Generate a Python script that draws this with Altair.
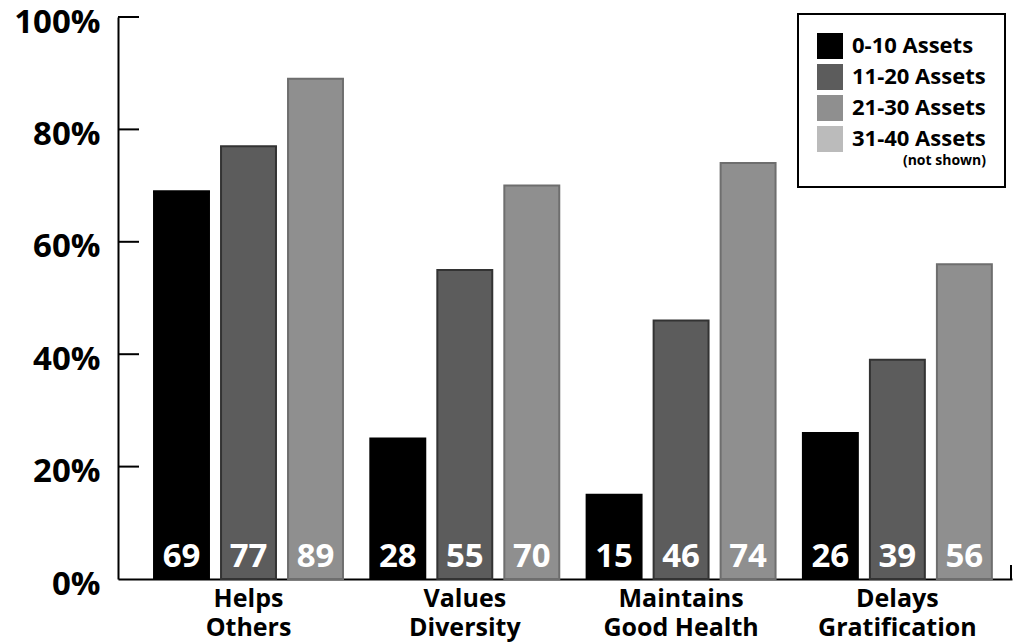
import altair as alt
import pandas as pd

categories = ["Helps|Others", "Values|Diversity", "Maintains|Good Health", "Delays|Gratification"]
groups = ["0-10 Assets", "11-20 Assets", "21-30 Assets", "31-40 Assets"]
shown_groups = groups[:3]

# bar heights as drawn (percent) and the numbers printed on the bars
heights_0_10 = [69, 25, 15, 26]
heights_11_20 = [77, 55, 46, 39]
heights_21_30 = [89, 70, 74, 56]
labels_0_10 = [69, 28, 15, 26]
labels_11_20 = [77, 55, 46, 39]
labels_21_30 = [89, 70, 74, 56]

fill_colors = ["#000000", "#5c5c5c", "#8f8f8f", "#bbbbbb"]
stroke_colors = ["#000000", "#333333", "#6e6e6e", "#999999"]
y_ticks = [0, 20, 40, 60, 80, 100]

rows = []
for g, hs, ls in zip(shown_groups, [heights_0_10, heights_11_20, heights_21_30],
                     [labels_0_10, labels_11_20, labels_21_30]):
    for c, h, l in zip(categories, hs, ls):
        rows.append({"category": c, "group": g, "height": h, "label": l})
df = pd.DataFrame(rows)
ticks_df = pd.DataFrame({"tick": y_ticks[1:]})

FONT = "Open Sans"
W, H = 894, 562

x_enc = alt.X("category:N", sort=categories,
              scale=alt.Scale(paddingInner=0.0707, paddingOuter=0.102, align=0.68),
              axis=alt.Axis(title=None, labelExpr="split(datum.label, '|')", ticks=False,
                            labelAngle=0, labelFont=FONT, labelFontWeight="bold",
                            labelFontSize=25, labelLineHeight=29, labelColor="black",
                            labelPadding=7, labelBaseline="top",
                            domainColor="black", domainWidth=2))
xoff_enc = alt.XOffset("group:N", sort=shown_groups,
                       scale=alt.Scale(paddingInner=0.18, paddingOuter=0.09))
y_scale = alt.Scale(domain=[0, 100], nice=False)

bars = alt.Chart(df).mark_bar(strokeWidth=2).encode(
    x=x_enc,
    xOffset=xoff_enc,
    y=alt.Y("height:Q", scale=y_scale,
            axis=alt.Axis(title=None, values=y_ticks, labelExpr="datum.value + '%'",
                          ticks=False, grid=False, labelFont=FONT, labelFontWeight="bold",
                          labelFontSize=33, labelColor="black", labelPadding=18,
                          labelOffset=5, domainColor="black", domainWidth=2)),
    color=alt.Color("group:N", scale=alt.Scale(domain=groups, range=fill_colors),
                    legend=alt.Legend(title="(not shown)", titleOrient="bottom",
                                      titleAnchor="end", titleFontSize=14,
                                      titleFont=FONT, titleFontWeight="bold",
                                      titlePadding=2, titleColor="black",
                                      orient="none", legendX=680, legendY=-3,
                                      symbolType="square", symbolSize=676,
                                      symbolStrokeWidth=0, symbolOpacity=1,
                                      labelFont=FONT, labelFontWeight="bold",
                                      labelFontSize=22, labelColor="black",
                                      labelOffset=9,
                                      strokeColor="black",
                                      padding=19, fillColor="white")),
    stroke=alt.Stroke("group:N", scale=alt.Scale(domain=groups, range=stroke_colors),
                      legend=None),
)

texts = alt.Chart(df).mark_text(font=FONT, fontWeight="bold", fontSize=33, color="white",
                                baseline="alphabetic", dy=-12).encode(
    x=alt.X("category:N", sort=categories),
    xOffset=alt.XOffset("group:N", sort=shown_groups),
    y=alt.datum(0),
    text=alt.Text("label:Q"),
)

tick_rules = alt.Chart(ticks_df).mark_rule(color="black", strokeWidth=2).encode(
    y=alt.Y("tick:Q", scale=y_scale),
    x=alt.value(0),
    x2=alt.value(21),
)

end_rule = alt.Chart(ticks_df).mark_rule(color="black", strokeWidth=2).encode(
    x=alt.value(W - 1),
    y=alt.value(H - 14),
    y2=alt.value(H),
)

chart = alt.layer(bars, texts, tick_rules, end_rule).properties(
    width=W, height=H,
    autosize=alt.AutoSizeParams(type="none"),
    padding={"left": 118, "top": 17, "right": 9, "bottom": 65},
    background="white",
).configure_view(stroke=None).configure_legend(strokeWidth=2, rowPadding=5)

chart.save("out.html", embed_options={"renderer": "svg", "actions": False})
